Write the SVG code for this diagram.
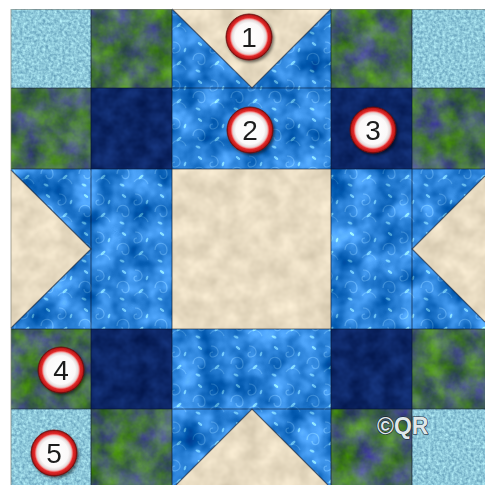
<svg xmlns="http://www.w3.org/2000/svg" width="485" height="485" viewBox="0 0 485 485">
<defs>
<style>
 .num{font-family:"Liberation Sans",Arial,sans-serif;font-size:28px;fill:#1e1e1e;text-anchor:middle}
 .seam{stroke:#0a1428;stroke-opacity:0.55;stroke-width:1.2;fill:none}
 .badge{fill:url(#badgeGrad);stroke:#6a0a0a;stroke-width:0.8}
 .edge{stroke:#0a1830;stroke-opacity:0.6;stroke-width:1.2}
</style>
<radialGradient id="badgeGrad" cx="50%" cy="50%" r="50%">
 <stop offset="0" stop-color="#ffffff"/>
 <stop offset="0.62" stop-color="#fbf9f9"/>
 <stop offset="0.74" stop-color="#e4dada"/>
 <stop offset="0.78" stop-color="#f4a4a4"/>
 <stop offset="0.84" stop-color="#e22a2a"/>
 <stop offset="0.94" stop-color="#c21a1a"/>
 <stop offset="1" stop-color="#7e0e0e"/>
</radialGradient>
<filter id="shadow" x="-30%" y="-30%" width="170%" height="170%">
 <feDropShadow dx="1.5" dy="2" stdDeviation="1.6" flood-color="#000" flood-opacity="0.55"/>
</filter>
<filter id="fLight" color-interpolation-filters="sRGB">
 <feTurbulence type="fractalNoise" baseFrequency="0.35" numOctaves="2" seed="3" result="n"/>
 <feColorMatrix in="n" type="matrix" values="0.45 0 0 0 0.33  0.45 0 0 0 0.56  0.35 0 0 0 0.68  0 0 0 0 1" result="c"/>
 <feComposite in="c" in2="SourceAlpha" operator="in"/>
</filter>
<filter id="fGreen" color-interpolation-filters="sRGB">
 <feTurbulence type="fractalNoise" baseFrequency="0.045" numOctaves="4" seed="7" result="n"/>
 <feColorMatrix in="n" type="matrix" values="0.10 0.3 0 0 0.07  0.5 0.3 0 0 0.02  -0.7 0.3 0 0 0.52  0 0 0 0 1" result="c"/>
 <feComposite in="c" in2="SourceAlpha" operator="in"/>
</filter>
<filter id="fNavy" color-interpolation-filters="sRGB">
 <feTurbulence type="fractalNoise" baseFrequency="0.06" numOctaves="3" seed="11" result="n"/>
 <feColorMatrix in="n" type="matrix" values="0.10 0 0 0 0.0  0.16 0 0 0 0.07  0.26 0 0 0 0.27  0 0 0 0 1" result="c"/>
 <feComposite in="c" in2="SourceAlpha" operator="in"/>
</filter>
<filter id="fTan" color-interpolation-filters="sRGB">
 <feTurbulence type="fractalNoise" baseFrequency="0.05" numOctaves="3" seed="5" result="n"/>
 <feColorMatrix in="n" type="matrix" values="0.2 0 0 0 0.81  0.2 0 0 0 0.76  0.2 0 0 0 0.66  0 0 0 0 1" result="c"/>
 <feComposite in="c" in2="SourceAlpha" operator="in"/>
</filter>
<filter id="fBlue" color-interpolation-filters="sRGB">
 <feTurbulence type="fractalNoise" baseFrequency="0.04" numOctaves="3" seed="9" result="n"/>
 <feColorMatrix in="n" type="matrix" values="1 0 0 0 0  1 0 0 0 0  1 0 0 0 0  0 0 0 0 1" result="g"/>
 <feComposite in="SourceGraphic" in2="g" operator="arithmetic" k1="0" k2="1" k3="0.6" k4="-0.3" result="m"/>
 <feComposite in="m" in2="SourceAlpha" operator="in"/>
</filter>
<pattern id="swirl" width="38" height="38" patternUnits="userSpaceOnUse">
 <rect width="38" height="38" fill="#2b82d8"/>
 <path d="M3 22 c0 -9 12 -9 12 0 c0 6 -7 6 -7 1" fill="none" stroke="#5cabee" stroke-width="1.2" opacity="0.75"/>
 <path d="M21 4 c8 0 10 10 2 11 c-4 0 -4 -5 0 -5" fill="none" stroke="#5cabee" stroke-width="1.2" opacity="0.75"/>
 <path d="M20 30 c4 -6 12 -4 14 2" fill="none" stroke="#5cabee" stroke-width="1.1" opacity="0.6"/>
 <ellipse cx="27" cy="25" rx="3" ry="1.3" transform="rotate(-40 27 25)" fill="#7fd6ff" opacity="0.85"/>
 <ellipse cx="10" cy="6" rx="2.6" ry="1.2" transform="rotate(35 10 6)" fill="#7fd6ff" opacity="0.85"/>
 <ellipse cx="33" cy="12" rx="2.4" ry="1.1" transform="rotate(-70 33 12)" fill="#7fd6ff" opacity="0.8"/>
 <ellipse cx="8" cy="33" rx="2.6" ry="1.2" transform="rotate(20 8 33)" fill="#7fd6ff" opacity="0.8"/>
</pattern>
</defs>

<rect width="485" height="485" fill="#ffffff"/>

<g id="light-blue" filter="url(#fLight)" fill="#8cc8dc">
 <rect x="11" y="9" width="80" height="79"/>
 <rect x="412" y="9" width="73" height="79"/>
 <rect x="11" y="409" width="80" height="76"/>
 <rect x="412" y="409" width="73" height="76"/>
</g>
<g id="green" filter="url(#fGreen)" fill="#4f7a5a">
 <rect x="91" y="9" width="81" height="79"/>
 <rect x="331" y="9" width="81" height="79"/>
 <rect x="11" y="88" width="80" height="81"/>
 <rect x="412" y="88" width="73" height="81"/>
 <rect x="11" y="329" width="80" height="80"/>
 <rect x="412" y="329" width="73" height="80"/>
 <rect x="91" y="409" width="81" height="76"/>
 <rect x="331" y="409" width="81" height="76"/>
</g>
<g id="navy" filter="url(#fNavy)" fill="#0e2a6c">
 <rect x="91" y="88" width="81" height="81"/>
 <rect x="331" y="88" width="81" height="81"/>
 <rect x="91" y="329" width="81" height="80"/>
 <rect x="331" y="329" width="81" height="80"/>
</g>
<g id="blue" filter="url(#fBlue)" fill="url(#swirl)">
 <rect x="172" y="9" width="159" height="79"/>
 <rect x="172" y="88" width="159" height="81"/>
 <rect x="11" y="169" width="80" height="160"/>
 <rect x="91" y="169" width="81" height="160"/>
 <rect x="331" y="169" width="81" height="160"/>
 <rect x="412" y="169" width="73" height="160"/>
 <rect x="172" y="329" width="159" height="80"/>
 <rect x="172" y="409" width="159" height="76"/>
</g>
<g id="tan" filter="url(#fTan)" fill="#e8dcc2">
 <rect x="172" y="169" width="159" height="160"/>
 <polygon points="172,9 331,9 252,88"/>
 <polygon points="11,170 91,249 11,328"/>
 <polygon points="412,249 485,176 485,322"/>
 <polygon points="252,409 176,485 328,485"/>
</g>

<g id="seams" class="seam">
 <line x1="11" y1="88" x2="485" y2="88"/>
 <line x1="11" y1="169" x2="485" y2="169"/>
 <line x1="11" y1="329" x2="485" y2="329"/>
 <line x1="11" y1="409" x2="485" y2="409"/>
 <line x1="91" y1="9" x2="91" y2="485"/>
 <line x1="172" y1="9" x2="172" y2="485"/>
 <line x1="331" y1="9" x2="331" y2="485"/>
 <line x1="412" y1="9" x2="412" y2="485"/>
 <polyline class="edge" points="172,9 252,88 331,9"/>
 <polyline class="edge" points="11,170 91,249 11,328"/>
 <polyline class="edge" points="485,176 412,249 485,322"/>
 <polyline class="edge" points="176,485 252,409 328,485"/>
 <path d="M11 485 V9.5 H485" stroke="#7a7a70" stroke-width="1.2" fill="none"/>
</g>

<g id="marker-1" filter="url(#shadow)">
 <circle class="badge" cx="249" cy="37" r="23"/>
 <text class="num" x="249" y="47">1</text>
</g>
<g id="marker-2" filter="url(#shadow)">
 <circle class="badge" cx="250" cy="130" r="23"/>
 <text class="num" x="250" y="140">2</text>
</g>
<g id="marker-3" filter="url(#shadow)">
 <circle class="badge" cx="373" cy="130" r="23"/>
 <text class="num" x="373" y="140">3</text>
</g>
<g id="marker-4" filter="url(#shadow)">
 <circle class="badge" cx="61" cy="370" r="23"/>
 <text class="num" x="61" y="380">4</text>
</g>
<g id="marker-5" filter="url(#shadow)">
 <circle class="badge" cx="54" cy="453" r="23"/>
 <text class="num" x="54" y="463">5</text>
</g>

<text id="copyright" x="377" y="434" font-family="Liberation Sans, Arial, sans-serif" font-size="23" font-weight="bold" fill="#dfe8ea" stroke="#1a2030" stroke-width="1.2" paint-order="stroke">©QR</text>
</svg>
